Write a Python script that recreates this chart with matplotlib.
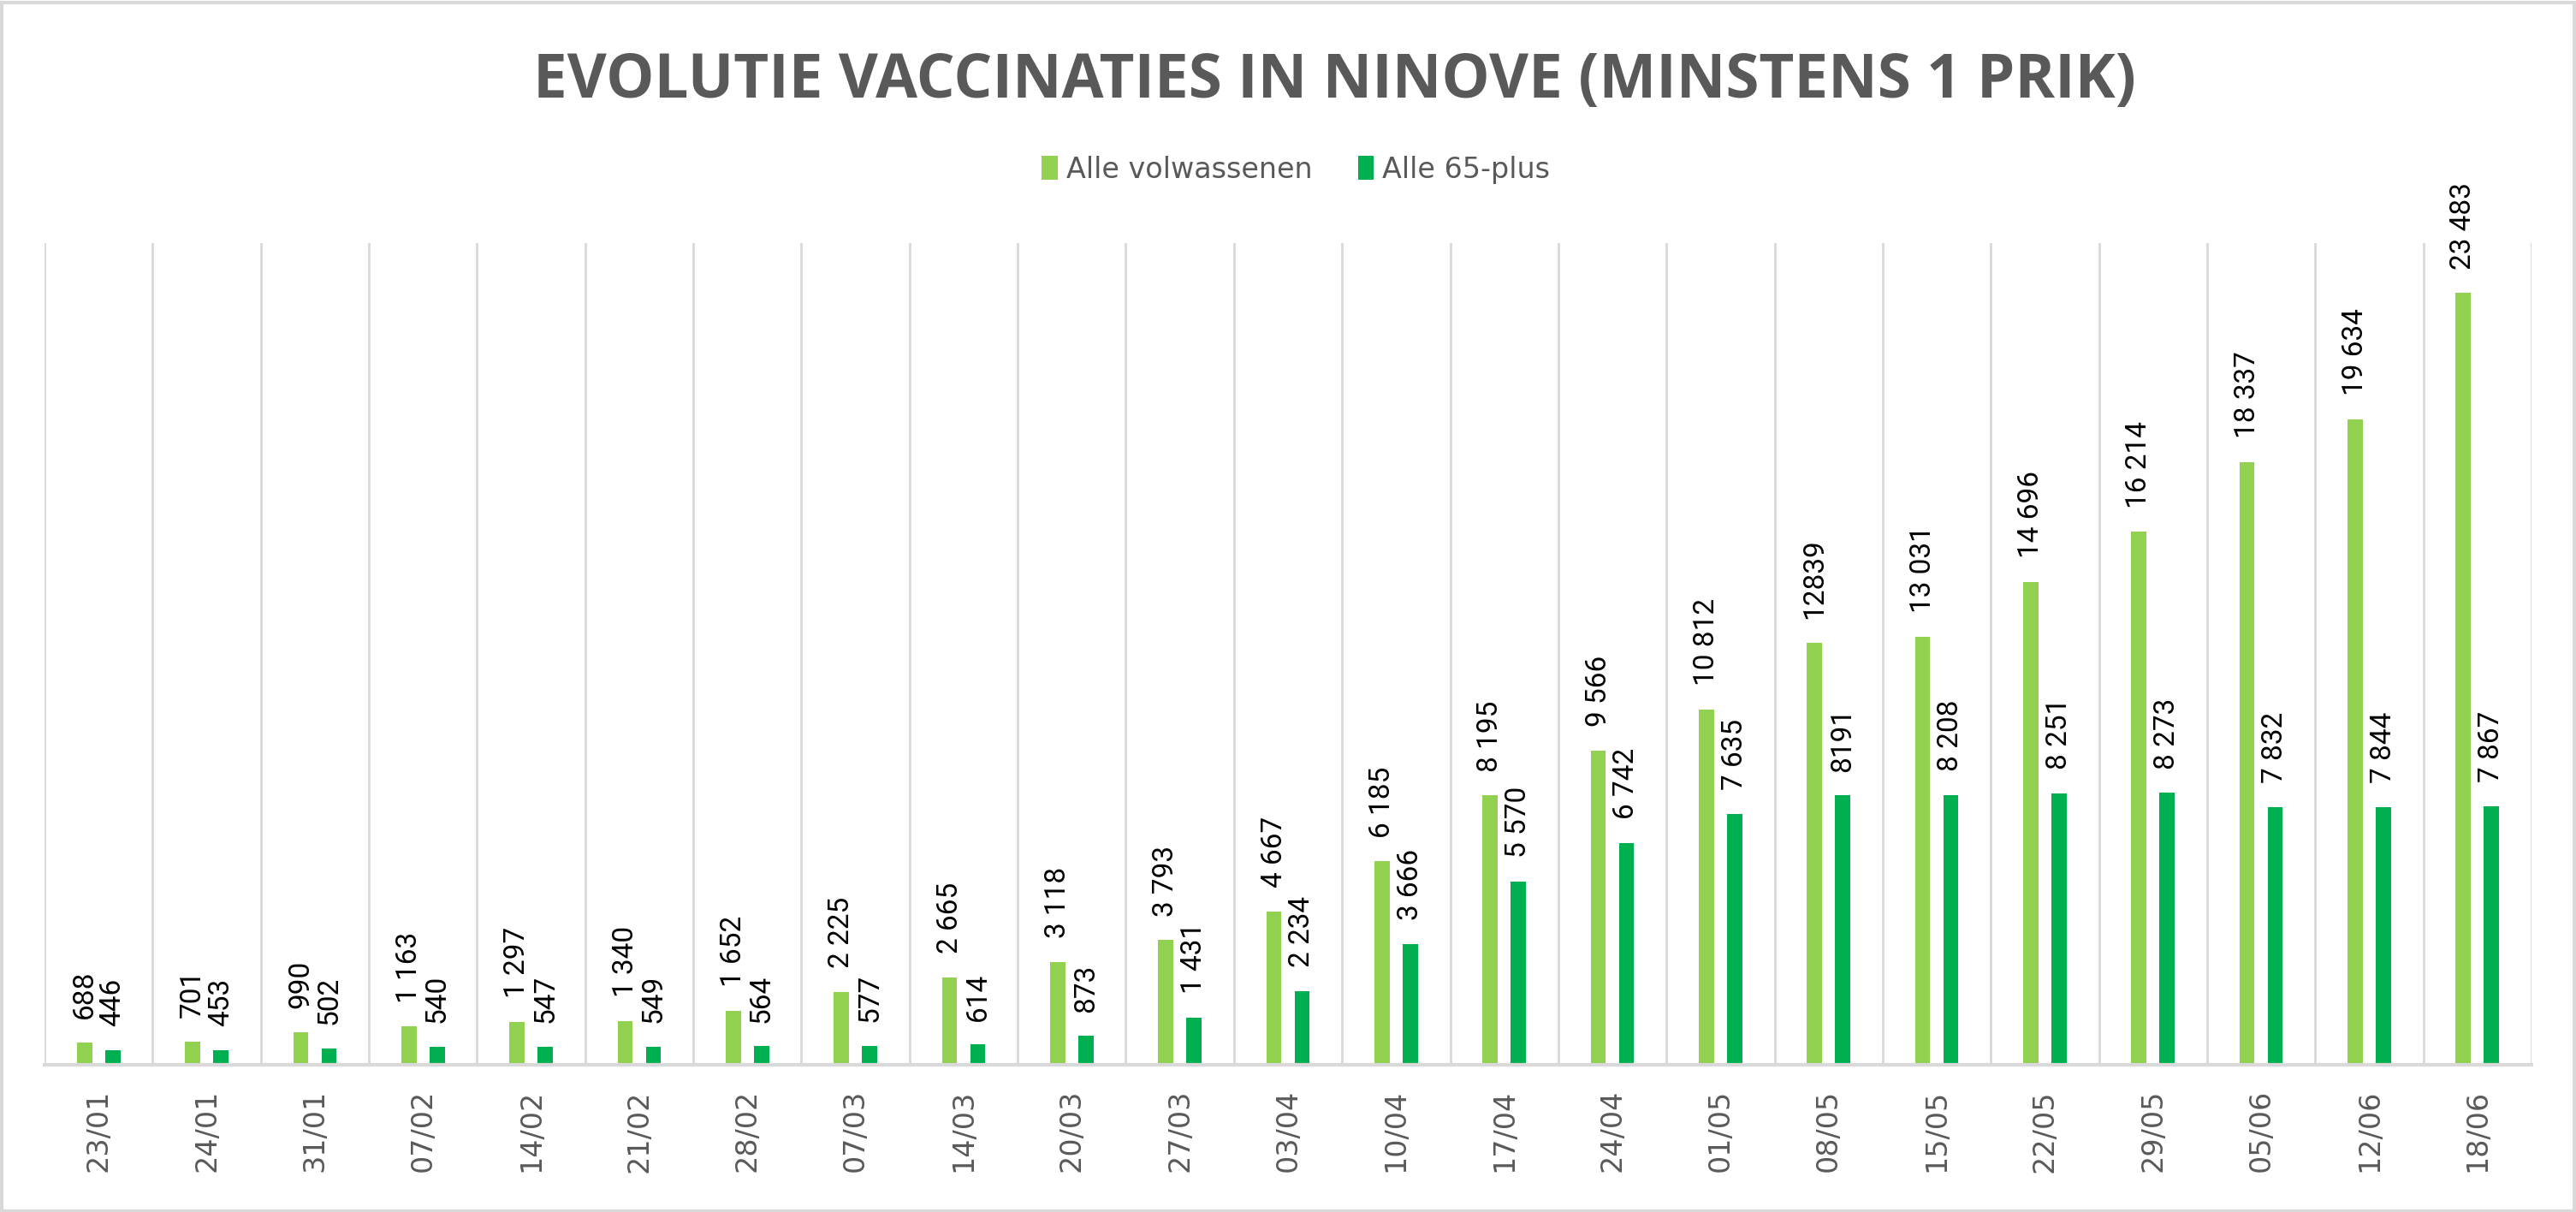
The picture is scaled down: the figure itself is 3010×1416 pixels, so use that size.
import matplotlib.pyplot as plt
import matplotlib.patches as patches
import numpy as np

# data
datums = ['23/01', '24/01', '31/01', '07/02', '14/02', '21/02', '28/02', '07/03',
          '14/03', '20/03', '27/03', '03/04', '10/04', '17/04', '24/04', '01/05',
          '08/05', '15/05', '22/05', '29/05', '05/06', '12/06', '18/06']
volwassenen = [688, 701, 990, 1163, 1297, 1340, 1652, 2225, 2665, 3118, 3793, 4667,
               6185, 8195, 9566, 10812, 12839, 13031, 14696, 16214, 18337, 19634, 23483]
plus65 = [446, 453, 502, 540, 547, 549, 564, 577, 614, 873, 1431, 2234,
          3666, 5570, 6742, 7635, 8191, 8208, 8251, 8273, 7832, 7844, 7867]
labels_volw = ['688', '701', '990', '1 163', '1 297', '1 340', '1 652', '2 225', '2 665',
               '3 118', '3 793', '4 667', '6 185', '8 195', '9 566', '10 812', '12839',
               '13 031', '14 696', '16 214', '18 337', '19 634', '23 483']
labels_65 = ['446', '453', '502', '540', '547', '549', '564', '577', '614', '873',
             '1 431', '2 234', '3 666', '5 570', '6 742', '7 635', '8191', '8 208',
             '8 251', '8 273', '7 832', '7 844', '7 867']

licht = '#92D050'
donker = '#00B050'
grijs = '#595959'

fig = plt.figure(figsize=(30.1, 14.16), dpi=100)
ax = fig.add_axes([0.0173, 0.1215, 0.9654, 0.6779])

x = np.arange(len(datums))
b = 0.14
ax.bar(x - 0.13, volwassenen, width=b, color=licht, label='Alle volwassenen', zorder=3)
ax.bar(x + 0.13, plus65, width=b, color=donker, label='Alle 65-plus', zorder=3)

# waarden boven de balken
for i in range(len(datums)):
    ax.annotate(labels_volw[i], (x[i] - 0.13, volwassenen[i]), xytext=(0, 20),
                textcoords='offset points', rotation=90, ha='center', va='bottom',
                fontsize=24, family='Roboto', color='black', zorder=5)
    ax.annotate(labels_65[i], (x[i] + 0.13, plus65[i]), xytext=(0, 20),
                textcoords='offset points', rotation=90, ha='center', va='bottom',
                fontsize=24, family='Roboto', color='black', zorder=5)

ax.set_xlim(-0.5, len(datums) - 0.5)
ax.set_ylim(0, 25000)

# verticale rasterlijnen tussen de categorieen
for g in np.arange(-0.5, len(datums), 1.0):
    ax.axvline(g, color='#D9D9D9', linewidth=2, zorder=1)

ax.set_xticks(x)
ax.set_xticklabels(datums, rotation=90, fontsize=24, color=grijs)
ax.tick_params(axis='x', length=0, pad=21)
ax.set_yticks([])
for s in ['top', 'left', 'right']:
    ax.spines[s].set_visible(False)
ax.spines['bottom'].set_color('#D9D9D9')
ax.spines['bottom'].set_linewidth(3)
ax.spines['bottom'].set_zorder(4)

fig.text(0.518, 0.933, 'EVOLUTIE VACCINATIES IN NINOVE (MINSTENS 1 PRIK)',
         ha='center', va='center', fontsize=51, fontweight='bold',
         family='Open Sans', color=grijs)

fig.legend(loc='center', bbox_to_anchor=(0.503, 0.860), ncol=2, frameon=False,
           fontsize=24, handlelength=0.55, handleheight=0.9, handletextpad=0.3,
           columnspacing=1.6, labelcolor=grijs)

# rand rond de grafiek
fig.patches.append(patches.Rectangle((0.0007, 0.001), 0.9986, 0.997, transform=fig.transFigure,
                                     fill=False, edgecolor='#D9D9D9', linewidth=3))

plt.savefig('out.png', dpi=100)
